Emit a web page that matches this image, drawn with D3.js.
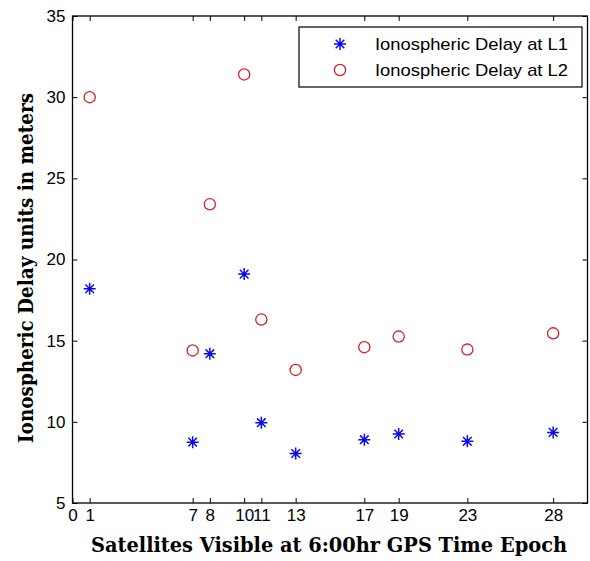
<!DOCTYPE html>
<html>
<head>
<meta charset="utf-8">
<script src="https://cdn.jsdelivr.net/npm/d3@7"></script>
<style>
  body { margin: 0; background: #fff; }
  svg { display: block; }
  .tick text { font-family: "Liberation Sans", Arial, sans-serif; font-size: 17px; fill: #000; }
  .tick line { stroke: #000; }
</style>
</head>
<body>
<div id="chart"></div>
<script>
// data
var satellites = [1, 7, 8, 10, 11, 13, 17, 19, 23, 28];
var delayL1 = [18.2, 8.75, 14.2, 19.1, 9.95, 8.05, 8.9, 9.25, 8.8, 9.35];
var delayL2 = [30.0, 14.4, 23.4, 31.4, 16.3, 13.2, 14.6, 15.25, 14.45, 15.45];
var xTicks = [0, 1, 7, 8, 10, 11, 13, 17, 19, 23, 28];
var yTicks = [5, 10, 15, 20, 25, 30, 35];
var seriesNames = ["Ionospheric Delay at L1", "Ionospheric Delay at L2"];

var W = 590, H = 561;
var margin = {left: 72.5, top: 16, right: 2.5, bottom: 58};
var iw = W - margin.left - margin.right,
    ih = H - margin.top - margin.bottom;

var svg = d3.select("#chart").append("svg")
    .attr("width", W)
    .attr("height", H);

var g = svg.append("g")
    .attr("transform", "translate(" + margin.left + "," + margin.top + ")");

var x = d3.scaleLinear().domain([0, 30]).range([0, iw]);
var y = d3.scaleLinear().domain([5, 35]).range([ih, 0]);

var blue = "#0a0ae6", red = "#d4202c";

// axes, ticks pointing inward like matlab
g.append("g")
    .attr("transform", "translate(0," + ih + ")")
    .call(d3.axisBottom(x).tickValues(xTicks).tickSize(-5).tickPadding(6).tickFormat(d3.format("d")))
    .call(function(a) { a.select(".domain").remove(); });
g.append("g")
    .call(d3.axisTop(x).tickValues(xTicks).tickSize(-5).tickFormat(""))
    .call(function(a) { a.select(".domain").remove(); });
g.append("g")
    .call(d3.axisLeft(y).tickValues(yTicks).tickSize(-5).tickPadding(7).tickFormat(d3.format("d")))
    .call(function(a) { a.select(".domain").remove(); });
g.append("g")
    .attr("transform", "translate(" + iw + ",0)")
    .call(d3.axisRight(y).tickValues(yTicks).tickSize(-5).tickFormat(""))
    .call(function(a) { a.select(".domain").remove(); });

// frame
g.append("rect")
    .attr("width", iw)
    .attr("height", ih)
    .attr("fill", "none")
    .attr("stroke", "#000")
    .attr("stroke-width", 1.3);

// asterisk marker (+ and x)
function star(cx, cy) {
  var p = d3.path(), a = 6, b = 4.3;
  p.moveTo(cx - a, cy); p.lineTo(cx + a, cy);
  p.moveTo(cx, cy - a); p.lineTo(cx, cy + a);
  p.moveTo(cx - b, cy - b); p.lineTo(cx + b, cy + b);
  p.moveTo(cx - b, cy + b); p.lineTo(cx + b, cy - b);
  return p.toString();
}

g.selectAll(".l2")
    .data(satellites)
    .enter()
    .append("circle")
    .attr("class", "l2")
    .attr("cx", function(d) { return x(d); })
    .attr("cy", function(d, i) { return y(delayL2[i]); })
    .attr("r", 5.6)
    .attr("fill", "none")
    .attr("stroke", red)
    .attr("stroke-width", 1.3);

g.selectAll(".l1")
    .data(satellites)
    .enter()
    .append("path")
    .attr("class", "l1")
    .attr("d", function(d, i) { return star(x(d), y(delayL1[i])); })
    .attr("stroke", blue)
    .attr("stroke-width", 1.5);

// legend
var leg = svg.append("g");
leg.append("rect")
    .attr("x", 299).attr("y", 27)
    .attr("width", 283).attr("height", 60)
    .attr("fill", "#fff")
    .attr("stroke", "#000")
    .attr("stroke-width", 1.2);
leg.append("path")
    .attr("d", star(340, 44))
    .attr("stroke", blue)
    .attr("stroke-width", 1.5);
leg.append("circle")
    .attr("cx", 340).attr("cy", 70).attr("r", 5.6)
    .attr("fill", "none")
    .attr("stroke", red)
    .attr("stroke-width", 1.3);
leg.selectAll("text.lab")
    .data(seriesNames)
    .enter()
    .append("text")
    .attr("class", "lab")
    .attr("x", 375)
    .attr("y", function(d, i) { return 50 + i * 26; })
    .attr("textLength", 193)
    .attr("lengthAdjust", "spacingAndGlyphs")
    .style("font-family", "Liberation Sans, Arial, sans-serif")
    .style("font-size", "17px")
    .text(function(d) { return d; });

// axis titles
svg.append("text")
    .attr("x", 91)
    .attr("y", 552)
    .attr("textLength", 476)
    .attr("lengthAdjust", "spacingAndGlyphs")
    .style("font-family", "DejaVu Serif, serif")
    .style("font-weight", "bold")
    .style("font-size", "20px")
    .text("Satellites Visible at 6:00hr GPS Time Epoch");

svg.append("text")
    .attr("transform", "translate(33,443) rotate(-90)")
    .attr("textLength", 350)
    .attr("lengthAdjust", "spacingAndGlyphs")
    .style("font-family", "DejaVu Serif, serif")
    .style("font-weight", "bold")
    .style("font-size", "21px")
    .text("Ionospheric Delay units in meters");
</script>
</body>
</html>
